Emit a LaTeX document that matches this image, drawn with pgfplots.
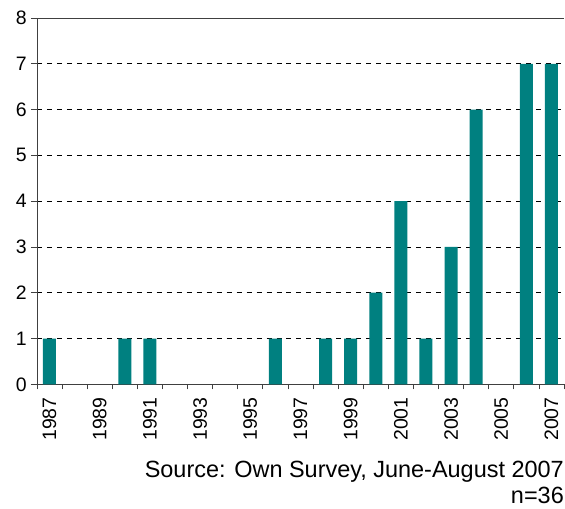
\documentclass[border=0pt]{standalone}
\usepackage{pgfplots}
\pgfplotsset{compat=1.18}
\usepackage{fontspec}
\setmainfont{Liberation Sans}
\usetikzlibrary{calc}
\definecolor{barteal}{RGB}{0,128,128}
\definecolor{axgray}{RGB}{64,64,64}
\begin{document}
\begin{tikzpicture}
\begin{axis}[
  scale only axis,
  width=528pt, height=367pt,
  xmin=-0.5, xmax=20.5,
  ymin=0, ymax=8,
  axis x line*=bottom,
  axis y line*=left,
  axis line style={axgray, line width=0.8pt},
  ytick={0,1,...,8},
  xtick={0,2,...,20},
  xticklabels={1987,1989,1991,1993,1995,1997,1999,2001,2003,2005,2007},
  minor xtick={-0.5,0.5,...,20.5},
  major x tick style={draw=none},
  minor x tick style={axgray, line width=0.8pt},
  y tick style={axgray, line width=0.8pt},
  tick align=outside,
  major tick length=6pt,
  minor tick length=5pt,
  ymajorgrids,
  major grid style={black, dash pattern=on 5pt off 5pt, line width=0.6pt},
  xticklabel style={rotate=90, anchor=east, font=\fontsize{19.5}{23}\selectfont, inner sep=3pt, xshift=-4pt},
  yticklabel style={font=\fontsize{19.5}{23}\selectfont, inner sep=4pt},
  /pgf/number format/assume math mode=true,
  ybar, bar width=13pt,
]
\addplot[fill=barteal, draw=none] coordinates {
 (0,1) (3,1) (4,1) (9,1) (11,1) (12,1) (13,2) (14,4) (15,1) (16,3) (17,6) (19,7) (20,7)
};
\draw[axgray, line width=0.8pt] (rel axis cs:0,1) -- (rel axis cs:1,1);
\end{axis}
\node[anchor=base east, font=\fontsize{23.5}{28}\selectfont, inner sep=0pt] at ($(current axis.south east)+(0pt,-93pt)$) {Source: Own Survey, June-August 2007};
\node[anchor=base east, font=\fontsize{23.5}{28}\selectfont, inner sep=0pt] at ($(current axis.south east)+(0pt,-119pt)$) {n=36};
\path ($(current axis.south west)+(-37pt,-124pt)$) rectangle ($(current axis.north east)+(1pt,18pt)$);
\end{tikzpicture}
\end{document}
